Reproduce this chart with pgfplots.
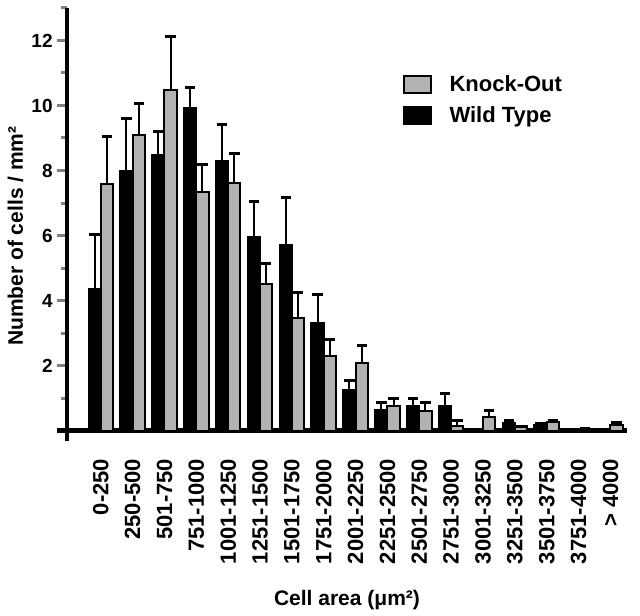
\documentclass[border=0pt]{standalone}
\usepackage{fontspec}
\setmainfont{Liberation Sans}
\usepackage{pgfplots}
\usepackage{pgfplotstable}
\pgfplotsset{compat=1.18}

\pgfplotstableread{
x ko koe
0 7.59 1.46
1 9.08 0.99
2 10.47 1.66
3 7.34 0.84
4 7.60 0.91
5 4.51 0.62
6 3.45 0.79
7 2.29 0.51
8 2.09 0.53
9 0.75 0.23
10 0.60 0.25
11 0.15 0.16
12 0.41 0.20
13 0.13 0.00
14 0.25 0.07
15 0.06 0.00
16 0.18 0.06
}\kodata

\pgfplotstableread{
x wt wte
0 4.35 1.69
1 7.97 1.63
2 8.47 0.74
3 9.91 0.64
4 8.28 1.13
5 5.95 1.10
6 5.72 1.44
7 3.30 0.90
8 1.26 0.27
9 0.64 0.21
10 0.74 0.24
11 0.74 0.40
13 0.22 0.08
14 0.17 0.05
}\wtdata

\definecolor{kogray}{gray}{0.70}

\begin{document}
\begin{tikzpicture}
\useasboundingbox (-33.5pt,-92.25pt) rectangle (286.5pt,215.25pt);
\begin{axis}[
  at={(0pt,0pt)}, anchor=south west,
  scale only axis, width=280pt, height=211.25pt,
  xmin=-1.06, xmax=16.52, ymin=0, ymax=13,
  axis lines*=left,
  axis line style={line width=2.2pt},
  x axis line style={shorten <=-5pt},
  y axis line style={shorten <=-5pt},
  ybar, bar width=0.385,
  xtick={0,...,16},
  xticklabels={0-250,250-500,501-750,751-1000,1001-1250,1251-1500,1501-1750,1751-2000,2001-2250,2251-2500,2501-2750,2751-3000,3001-3250,3251-3500,3501-3750,3751-4000,> 4000},
  xtick style={draw=none},
  xticklabel style={font=\bfseries\fontsize{11}{13}\selectfont, rotate=90, anchor=east, inner sep=0pt},
  xticklabel shift=9pt,
  ytick={2,4,...,12},
  minor ytick={1,3,...,13},
  tick align=outside,
  ytick style={line width=1.5pt},
  major tick length=5pt,
  minor tick length=3pt,
  yticklabel style={font=\bfseries\fontsize{9.5}{11}\selectfont, inner sep=0pt},
  yticklabel shift=2pt,
  /pgf/number format/assume math mode=true,
  ylabel={Number of cells / mm²},
  ylabel style={font=\bfseries\fontsize{10.5}{12}\selectfont, at={(axis description cs:-0.0786,0.46)}, anchor=base, inner sep=0pt},
  xlabel={Cell area (μm²)},
  xlabel style={font=\bfseries\fontsize{10.5}{12}\selectfont, at={(axis description cs:0.5,0)}, anchor=base, yshift=-87.6pt, inner sep=0pt},
  legend style={at={(axis cs:9.46,10.94)}, anchor=north west, draw=none, fill=none, inner sep=0pt, row sep=6pt,
    font=\bfseries\fontsize{11}{13}\selectfont, nodes={inner sep=0pt}},
  legend cell align=left,
  mylegend/.style={legend image code/.code={\draw[##1, line width=1pt] (0pt,-4.25pt) rectangle (13.5pt,4.25pt); \path (22.5pt,0pt);}},
]
\addplot[mylegend, fill=kogray, draw=black, line width=1pt, bar shift=0.1925,
  error bars/.cd, y dir=plus, y explicit,
  error bar style={line width=1pt, black},
  error mark options={rotate=90, mark size=2.6pt, line width=1.5pt, black}]
  table[x=x, y=ko, y error=koe]{\kodata};
\addlegendentry{Knock-Out}
\addplot[mylegend, fill=black, draw=black, line width=1pt, bar shift=-0.1925,
  error bars/.cd, y dir=plus, y explicit,
  error bar style={line width=1pt, black},
  error mark options={rotate=90, mark size=2.6pt, line width=1.5pt, black}]
  table[x=x, y=wt, y error=wte]{\wtdata};
\addlegendentry{Wild Type}
\end{axis}
\end{tikzpicture}
\end{document}
